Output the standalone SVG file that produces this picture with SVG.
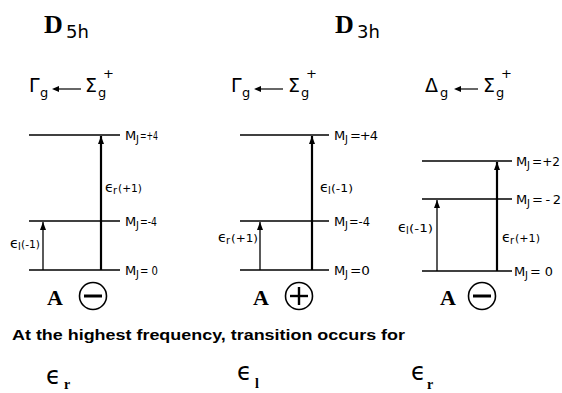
<svg xmlns="http://www.w3.org/2000/svg" width="562" height="393" viewBox="0 0 562 393">
<style>
.lvl{stroke:#000;stroke-width:1.4;fill:none}
.arT{stroke:#000;stroke-width:2.2;fill:none}
.arS{stroke:#000;stroke-width:1.3;fill:none}
.lab{font-family:"DejaVu Sans","Liberation Sans",sans-serif;font-size:13px;fill:#000}
.labs{font-family:"DejaVu Sans","Liberation Sans",sans-serif;font-size:10px;fill:#000}
.sym{font-family:"DejaVu Sans","Liberation Sans",sans-serif;font-size:19px;fill:#000}
.sub{font-family:"DejaVu Sans","Liberation Sans",sans-serif;font-size:13px;fill:#000}
.ttl{font-family:"Liberation Serif",serif;font-weight:bold;font-size:26px;fill:#000}
.ttls{font-family:"DejaVu Sans","Liberation Sans",sans-serif;font-size:18px;fill:#000}
.A{font-family:"Liberation Serif",serif;font-weight:bold;font-size:22px;fill:#000}
.eps{font-family:"DejaVu Sans","Liberation Sans",sans-serif;font-size:14px;fill:#000}
.epsp{font-family:"DejaVu Sans","Liberation Sans",sans-serif;font-size:11px;fill:#000}
.big{font-family:"DejaVu Sans","Liberation Sans",sans-serif;font-size:24px;fill:#000}
.bsub{font-family:"Liberation Serif",serif;font-weight:bold;font-size:14px;fill:#000}
.circ{stroke:#000;stroke-width:1.6;fill:none}
</style>
<defs>
<marker id="ah" markerWidth="8" markerHeight="6" refX="8" refY="3" orient="auto" markerUnits="userSpaceOnUse" viewBox="0 0 8 6">
<path d="M0,0 L8,3 L0,6 Z" fill="#000"/>
</marker>
</defs>

<!-- Titles -->
<g id="title-d5h"><text class="ttl" x="44" y="33">D</text><text class="ttls" x="66" y="38">5h</text></g>
<g id="title-d3h"><text class="ttl" x="335" y="33">D</text><text class="ttls" x="357" y="38">3h</text></g>

<!-- Symmetry headings -->
<g id="head1">
<text class="sym" x="29" y="92">Γ</text><text class="sub" x="40" y="97">g</text>
<line x1="57" y1="89" x2="81" y2="89" stroke="#000" stroke-width="1.2"/>
<path d="M52,89 L59,86 L59,92 Z" fill="#000"/>
<text class="sym" x="85" y="92">Σ</text><text class="sub" x="98" y="97">g</text><text class="sub" x="103" y="78">+</text>
</g>
<g id="head2">
<text class="sym" x="231" y="92">Γ</text><text class="sub" x="242" y="97">g</text>
<line x1="259" y1="89" x2="283" y2="89" stroke="#000" stroke-width="1.2"/>
<path d="M254,89 L261,86 L261,92 Z" fill="#000"/>
<text class="sym" x="288" y="92">Σ</text><text class="sub" x="301" y="97">g</text><text class="sub" x="306" y="78">+</text>
</g>
<g id="head3">
<text class="sym" x="425" y="92">Δ</text><text class="sub" x="440" y="97">g</text>
<line x1="459" y1="89" x2="478" y2="89" stroke="#000" stroke-width="1.2"/>
<path d="M454,89 L461,86 L461,92 Z" fill="#000"/>
<text class="sym" x="483" y="92">Σ</text><text class="sub" x="496" y="97">g</text><text class="sub" x="501" y="78">+</text>
</g>

<!-- Panel 1 levels -->
<g id="p1-levels">
<line class="lvl" x1="29" y1="135" x2="120" y2="135"/>
<line class="lvl" x1="29" y1="221" x2="120" y2="221" stroke-width="1"/>
<line class="lvl" x1="29" y1="270" x2="120" y2="270"/>
<text class="lab" x="125" y="140">M</text><text class="labs" x="136" y="143">J</text><text class="lab" x="140" y="140" textLength="18" lengthAdjust="spacingAndGlyphs">=+4</text>
<text class="lab" x="125" y="226">M</text><text class="labs" x="136" y="229">J</text><text class="lab" x="140" y="226" textLength="17" lengthAdjust="spacingAndGlyphs">=-4</text>
<text class="lab" x="125" y="275">M</text><text class="labs" x="136" y="278">J</text><text class="lab" x="140" y="275" textLength="18" lengthAdjust="spacingAndGlyphs">= 0</text>
</g>
<g id="p2-levels">
<line class="lvl" x1="240" y1="135" x2="329" y2="135"/>
<line class="lvl" x1="240" y1="221" x2="329" y2="221" stroke-width="1"/>
<line class="lvl" x1="240" y1="270" x2="329" y2="270"/>
<text class="lab" x="334" y="140">M</text><text class="labs" x="345" y="143">J</text><text class="lab" x="350" y="140" textLength="28" lengthAdjust="spacing">=+4</text>
<text class="lab" x="334" y="226">M</text><text class="labs" x="345" y="229">J</text><text class="lab" x="349" y="226" textLength="21" lengthAdjust="spacingAndGlyphs">=-4</text>
<text class="lab" x="334" y="275">M</text><text class="labs" x="345" y="278">J</text><text class="lab" x="350" y="275" textLength="20" lengthAdjust="spacingAndGlyphs">=0</text>
</g>
<g id="p3-levels">
<line class="lvl" x1="422" y1="161" x2="512" y2="161" stroke-width="1"/>
<line class="lvl" x1="422" y1="199" x2="512" y2="199"/>
<line class="lvl" x1="422" y1="271" x2="512" y2="271"/>
<text class="lab" x="516" y="166">M</text><text class="labs" x="527" y="169">J</text><text class="lab" x="532" y="166" textLength="28" lengthAdjust="spacingAndGlyphs">=+2</text>
<text class="lab" x="516" y="204">M</text><text class="labs" x="527" y="207">J</text><text class="lab" x="532" y="204" textLength="29" lengthAdjust="spacing">=-2</text>
<text class="lab" x="514" y="276">M</text><text class="labs" x="525" y="279">J</text><text class="lab" x="530" y="276" textLength="23" lengthAdjust="spacingAndGlyphs">= 0</text>
</g>

<!-- Connectors (transitions) -->
<g id="connectors">
<line class="arS" x1="43" y1="270" x2="43" y2="222" marker-end="url(#ah)"/>
<line class="arT" x1="101" y1="270" x2="101" y2="136" marker-end="url(#ah)"/>
<line class="arS" x1="260" y1="270" x2="260" y2="222" marker-end="url(#ah)"/>
<line class="arT" x1="312" y1="270" x2="312" y2="136" marker-end="url(#ah)"/>
<line class="arS" x1="437" y1="271" x2="437" y2="200" marker-end="url(#ah)"/>
<line class="arT" x1="497" y1="271" x2="497" y2="162" marker-end="url(#ah)"/>
</g>

<!-- Transition labels -->
<g id="p1-labels">
<text class="eps" x="10" y="248">ϵ</text><text class="labs" x="18" y="250">l</text><text class="epsp" x="21" y="248" textLength="19" lengthAdjust="spacingAndGlyphs">(-1)</text>
<text class="eps" x="105" y="192">ϵ</text><text class="labs" x="113" y="194">r</text><text class="epsp" x="118" y="192" textLength="24" lengthAdjust="spacingAndGlyphs">(+1)</text>
</g>
<g id="p2-labels">
<text class="eps" x="218" y="242">ϵ</text><text class="labs" x="226" y="244">r</text><text class="epsp" x="231" y="242" textLength="27" lengthAdjust="spacingAndGlyphs">(+1)</text>
<text class="eps" x="320" y="192">ϵ</text><text class="labs" x="328" y="194">l</text><text class="epsp" x="331" y="192" textLength="22" lengthAdjust="spacingAndGlyphs">(-1)</text>
</g>
<g id="p3-labels">
<text class="eps" x="398" y="232">ϵ</text><text class="labs" x="406" y="234">l</text><text class="epsp" x="409" y="232" textLength="24" lengthAdjust="spacingAndGlyphs">(-1)</text>
<text class="eps" x="502" y="242">ϵ</text><text class="labs" x="510" y="244">r</text><text class="epsp" x="515" y="242" textLength="25" lengthAdjust="spacingAndGlyphs">(+1)</text>
</g>

<!-- A with parity circles -->
<g id="p1-parity">
<text class="A" x="47" y="305">A</text>
<circle class="circ" cx="93" cy="296" r="13.5"/>
<line x1="84" y1="296" x2="102" y2="296" stroke="#000" stroke-width="3"/>
</g>
<g id="p2-parity">
<text class="A" x="253" y="305">A</text>
<circle class="circ" cx="299" cy="296" r="13.5"/>
<line x1="290" y1="296" x2="308" y2="296" stroke="#000" stroke-width="2.4"/>
<line x1="299" y1="287" x2="299" y2="305" stroke="#000" stroke-width="2.4"/>
</g>
<g id="p3-parity">
<text class="A" x="440" y="305">A</text>
<circle class="circ" cx="482" cy="296" r="13.5"/>
<line x1="473" y1="296" x2="491" y2="296" stroke="#000" stroke-width="3"/>
</g>

<!-- Bottom text -->
<g id="caption">
<text x="12" y="340" font-family="'Liberation Sans',sans-serif" font-size="15" font-weight="bold" textLength="393" lengthAdjust="spacingAndGlyphs">At the highest frequency, transition occurs for</text>
</g>
<g id="answers">
<text class="big" x="46" y="384">ϵ</text><text class="bsub" x="64" y="389">r</text>
<text class="big" x="237" y="380">ϵ</text><text class="bsub" x="255" y="388">l</text>
<text class="big" x="411" y="380">ϵ</text><text class="bsub" x="427" y="389">r</text>
</g>
</svg>
